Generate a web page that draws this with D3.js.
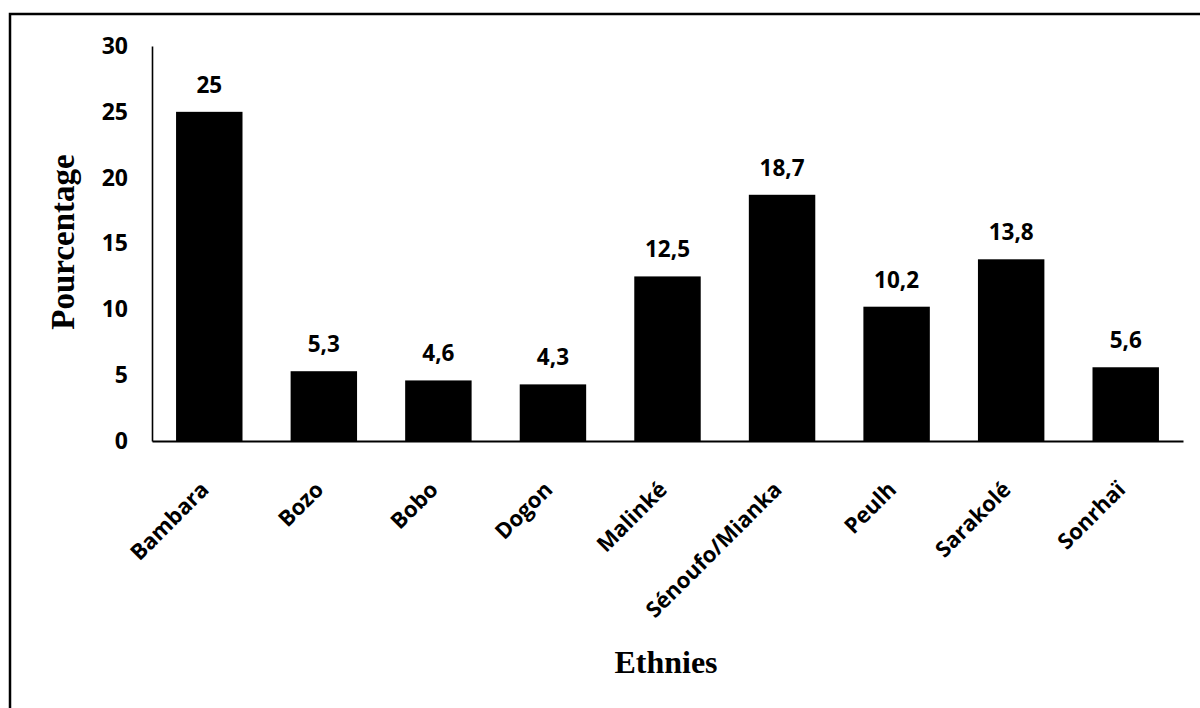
<!DOCTYPE html>
<html><head><meta charset="utf-8">
<script src="https://cdn.jsdelivr.net/npm/d3@7"></script>
<style>body{margin:0;background:#fff;} svg{display:block;}</style>
</head><body>
<svg id="c" width="1200" height="708"></svg>
<script>
const categories = ["Bambara","Bozo","Bobo","Dogon","Malinké","Sénoufo/Mianka","Peulh","Sarakolé","Sonrhaï"];
const values = [25, 5.3, 4.6, 4.3, 12.5, 18.7, 10.2, 13.8, 5.6];
const yTicks = [0, 5, 10, 15, 20, 25, 30];
const yTitle = "Pourcentage";
const xTitle = "Ethnies";

(function () {
const svg = d3.select("#c");
const W = 1200, H = 708;
const mLeft = 152, mRight = 1183, mTop = 46, mBottom = 441;
const lblFont = "'Open Sans', sans-serif";

// frame
svg.append("rect").attr("x", 10).attr("y", 14).attr("width", W + 20).attr("height", H + 20)
  .attr("fill", "none").attr("stroke", "#000").attr("stroke-width", 2.5);

const x = d3.scaleBand().domain(categories).range([mLeft, mRight]).paddingInner(0.42).paddingOuter(0.21);
const y = d3.scaleLinear().domain([0, 30]).range([mBottom, mTop]);

// bars
svg.append("g").selectAll("rect").data(categories).join("rect")
  .attr("x", d => x(d)).attr("width", x.bandwidth())
  .attr("y", (d, i) => y(values[i])).attr("height", (d, i) => y(0) - y(values[i]))
  .attr("fill", "#000");

// y axis
const ya = svg.append("g").attr("transform", `translate(${mLeft},0)`)
  .call(d3.axisLeft(y).tickValues(yTicks).tickSize(0).tickPadding(24).tickFormat(d3.format("d")));
ya.select(".domain").attr("stroke", "#000").attr("stroke-width", 1.6);
ya.selectAll("text").attr("font-family", lblFont).attr("font-weight", 700).attr("font-size", 23).attr("fill", "#000");

// x axis
const xa = svg.append("g").attr("transform", `translate(0,${mBottom})`)
  .call(d3.axisBottom(x).tickSize(0).tickSizeOuter(0));
xa.select(".domain").attr("stroke", "#000").attr("stroke-width", 2);
xa.selectAll("text")
  .attr("font-family", lblFont).attr("font-weight", 700).attr("font-size", 22).attr("fill", "#000")
  .attr("text-anchor", "end").attr("dy", 0).attr("y", 0)
  .attr("transform", "translate(1,50) rotate(-45)");

// value labels
svg.append("g").selectAll("text").data(categories).join("text")
  .attr("x", d => x(d) + x.bandwidth() / 2)
  .attr("y", (d, i) => y(values[i]) - 19)
  .attr("text-anchor", "middle")
  .attr("font-family", lblFont).attr("font-weight", 700).attr("font-size", 22.5).attr("fill", "#000")
  .text((d, i) => String(values[i]).replace(".", ","));

// titles
svg.append("text").attr("transform", "translate(74,242) rotate(-90)")
  .attr("text-anchor", "middle").attr("font-family", "'Liberation Serif', serif").attr("font-weight", 700)
  .attr("font-size", 33).attr("fill", "#000").text(yTitle);
svg.append("text").attr("x", 666).attr("y", 673)
  .attr("text-anchor", "middle").attr("font-family", "'Liberation Serif', serif").attr("font-weight", 700)
  .attr("font-size", 32).attr("fill", "#000").text(xTitle);
})();
</script>
</body></html>
